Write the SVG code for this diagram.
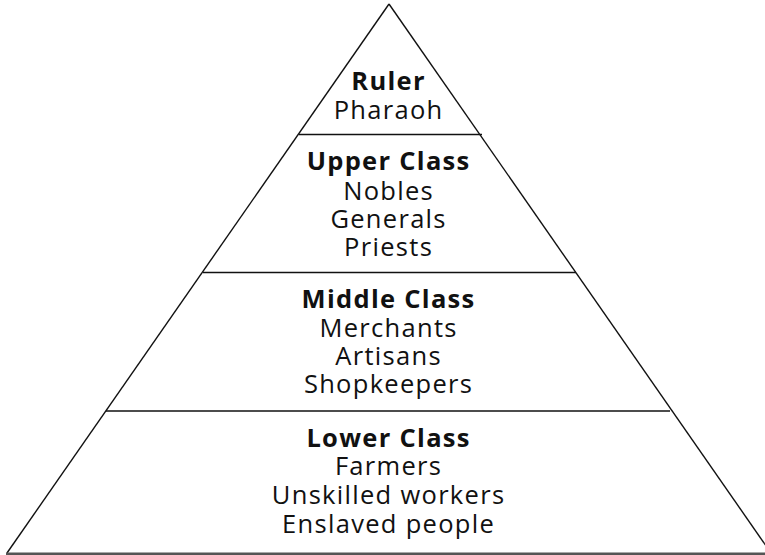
<svg xmlns="http://www.w3.org/2000/svg" width="765" height="555" viewBox="0 0 765 555">
<style>
.edge{stroke:#111;stroke-width:1.4;fill:none}
.t{font-family:"Open Sans","Noto Sans","Liberation Sans",sans-serif;font-size:25.5px;letter-spacing:1.3px;fill:#111;text-anchor:middle}
.h{font-weight:bold}
</style>
<rect width="765" height="555" fill="#fff"/>
<g id="connectors">
<line class="edge" x1="389" y1="4" x2="7" y2="553"/>
<line class="edge" x1="389" y1="4" x2="771" y2="553"/>
<line class="edge" x1="299" y1="134.5" x2="482" y2="134.5"/>
<line class="edge" x1="203" y1="272.5" x2="576" y2="272.5"/>
<line class="edge" x1="106" y1="411" x2="670" y2="411"/>
<line x1="6" y1="553.8" x2="765" y2="553.8" stroke="#555" stroke-width="2.6"/>
</g>
<g id="ruler">
<text class="t h" x="388.6" y="90">Ruler</text>
<text class="t" x="388.6" y="119">Pharaoh</text>
</g>
<g id="upper">
<text class="t h" x="388.6" y="169.5">Upper Class</text>
<text class="t" x="388.6" y="200">Nobles</text>
<text class="t" x="388.6" y="228">Generals</text>
<text class="t" x="388.6" y="255.5">Priests</text>
</g>
<g id="middle">
<text class="t h" x="388.6" y="307.5">Middle Class</text>
<text class="t" x="388.6" y="336.5">Merchants</text>
<text class="t" x="388.6" y="365">Artisans</text>
<text class="t" x="388.6" y="392.5">Shopkeepers</text>
</g>
<g id="lower">
<text class="t h" x="388.6" y="446.5">Lower Class</text>
<text class="t" x="388.6" y="475">Farmers</text>
<text class="t" x="388.6" y="503.5">Unskilled workers</text>
<text class="t" x="388.6" y="533">Enslaved people</text>
</g>
</svg>
